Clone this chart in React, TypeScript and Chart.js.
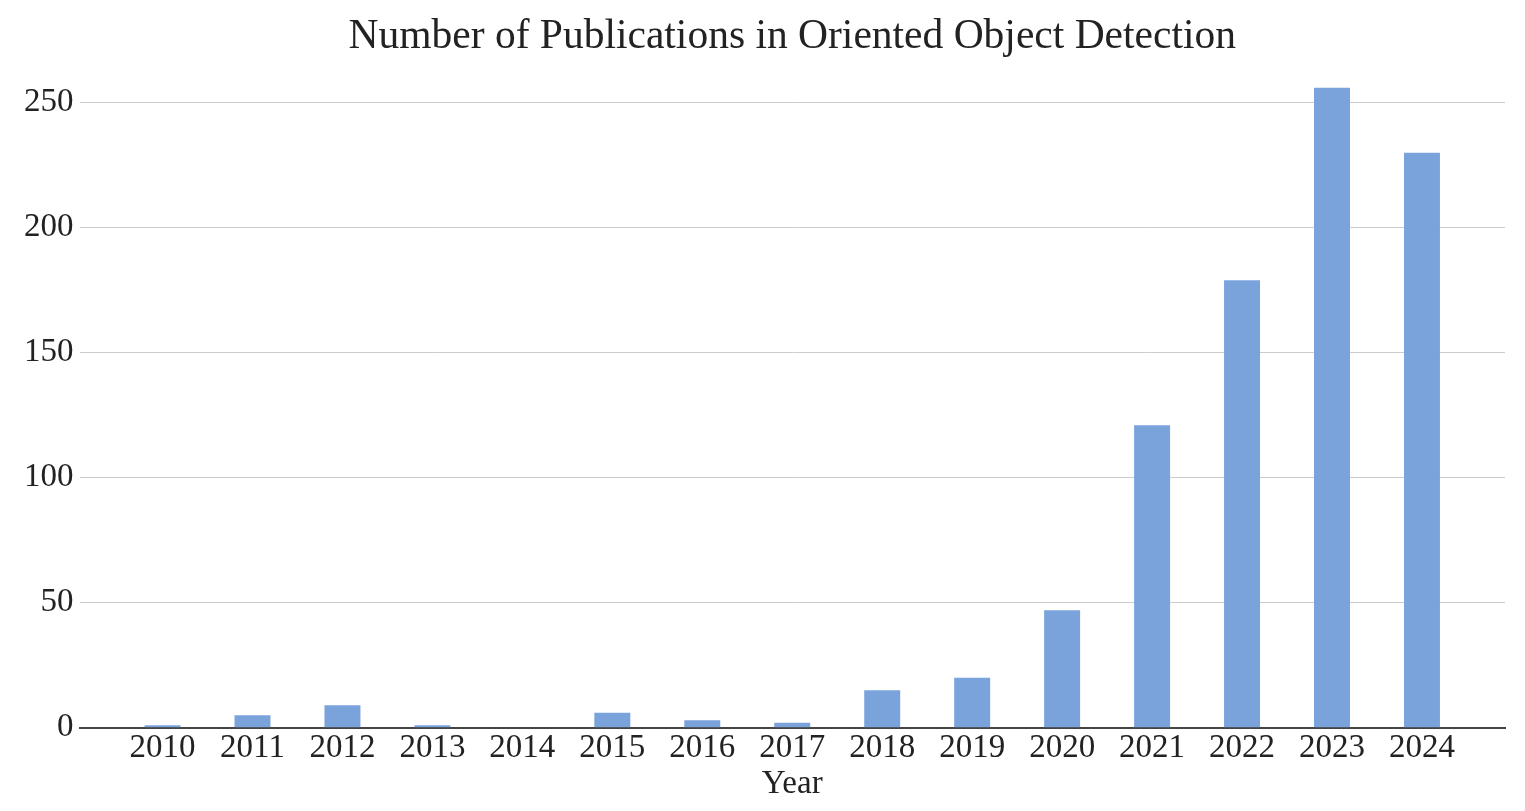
import React, { useEffect, useRef } from "react";
import { Chart, registerables } from "chart.js";

Chart.register(...registerables);

const years = [2010, 2011, 2012, 2013, 2014, 2015, 2016, 2017, 2018, 2019, 2020, 2021, 2022, 2023, 2024];
const publications = [1, 5, 9, 1, 0, 6, 3, 2, 15, 20, 47, 121, 179, 256, 230];
const yTicks = [0, 50, 100, 150, 200, 250];

const FONT = "'Liberation Serif', 'Times New Roman', Times, serif";

export default function App() {
  const ref = useRef<HTMLCanvasElement | null>(null);
  useEffect(() => {
    document.body.style.margin = "0";
    const ctx = ref.current!;
    const chart = new Chart(ctx, {
      type: "bar",
      data: {
        datasets: [
          {
            label: "Publications",
            data: years.map((y, i) => ({ x: y, y: publications[i] })),
            backgroundColor: "#7aa3dc",
            borderWidth: 0,
            barPercentage: 0.4,
            categoryPercentage: 1,
          },
        ],
      },
      options: {
        animation: false,
        responsive: false,
        layout: { padding: { left: 18, right: 20, top: 0, bottom: 7 } },
        plugins: {
          legend: { display: false },
          tooltip: { enabled: false },
          title: {
            display: true,
            fullSize: false,
            text: "Number of Publications in Oriented Object Detection",
            color: "#222",
            font: { family: FONT, size: 41.5, weight: "normal" },
            padding: { top: 12, bottom: 16 },
          },
        },
        scales: {
          x: {
            type: "linear",
            min: years[0] - 0.923,
            max: years[years.length - 1] + 0.923,
            offset: false,
            grid: { display: false, drawTicks: false },
            border: { display: true, color: "#444", width: 2 },
            ticks: {
              stepSize: 1,
              includeBounds: false,
              autoSkip: false,
              maxRotation: 0,
              padding: 1,
              color: "#222",
              font: { family: FONT, size: 33 },
              callback: (v: any) => (years.includes(Number(v)) ? String(v) : ""),
            },
            title: {
              display: true,
              text: "Year",
              color: "#222",
              font: { family: FONT, size: 33 },
              padding: { top: -5, bottom: 0 },
            },
          },
          y: {
            min: 0,
            max: 260,
            grid: { color: "#cccccc", lineWidth: 1, drawTicks: false },
            border: { display: false },
            afterBuildTicks: (axis: any) => {
              axis.ticks = yTicks.map((v) => ({ value: v }));
            },
            ticks: {
              padding: 6,
              color: "#222",
              font: { family: FONT, size: 33 },
            },
          },
        },
      },
    } as any);
    return () => chart.destroy();
  }, []);
  return <canvas ref={ref} width={1525} height={811} style={{ display: "block" }} />;
}
